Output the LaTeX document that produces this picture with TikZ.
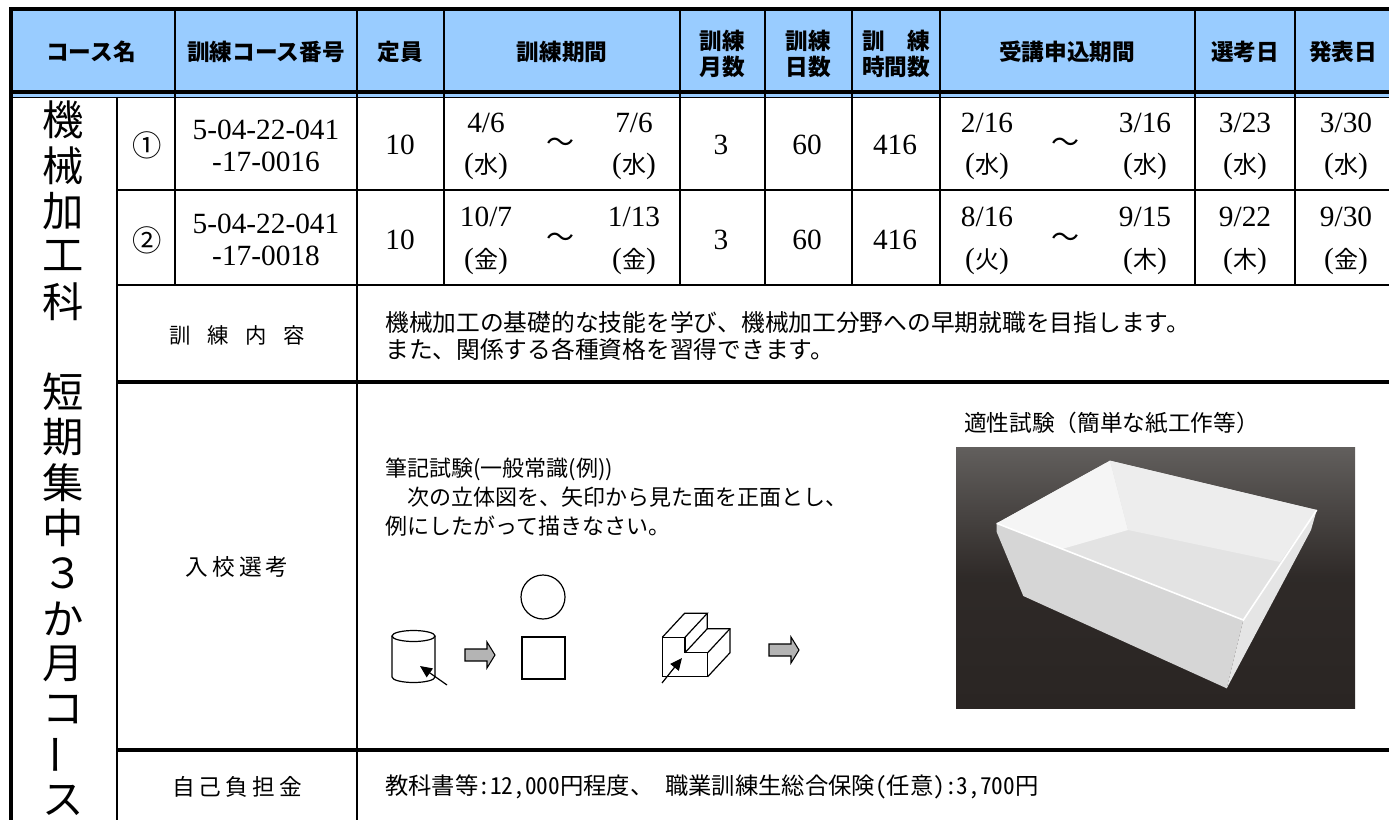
\documentclass[tikz,border=0pt]{standalone}
\usepackage{fontspec}
\setmainfont{Liberation Serif}
\newfontfamily\jpfont{Noto Sans CJK JP}
\newfontfamily\jphalf{Noto Sans CJK JP}[CharacterWidth=Half]
\newfontfamily\jpspaced{Noto Sans CJK JP}[LetterSpace=18]
\usetikzlibrary{arrows.meta}

\definecolor{hdblue}{RGB}{153,204,255}
\definecolor{arrowgray}{RGB}{180,180,180}
\definecolor{photobg}{RGB}{42,37,35}
\definecolor{phototop}{RGB}{98,95,93}

\newcommand\youbi[1]{(\hbox{\jpfont\fontsize{18}{20}\selectfont#1})}

\tikzset{
  frameline/.style={line width=3pt},
  gridline/.style={line width=2.2pt},
  hdtext/.style={font=\jpfont\bfseries\fontsize{17}{20}\selectfont, align=center},
  numtext/.style={font=\fontsize{22}{24}\selectfont, align=center},
  circnum/.style={font=\jpfont\fontsize{22}{22}\selectfont},
  tilde/.style={font=\jpfont\fontsize{21}{21}\selectfont},
  bigchar/.style={font=\jpfont\fontsize{31}{31}\selectfont},
  labeltext/.style={font=\jpspaced\fontsize{17}{20}\selectfont},
  bodytext/.style={font=\jpfont\fontsize{16.5}{20}\selectfont, anchor=west, align=left, inner sep=0pt},
  sketch/.style={line width=0.9pt},
  blockarrow/.style={draw, fill=arrowgray, line width=0.8pt},
}

\begin{document}
\begin{tikzpicture}[x=0.75pt,y=0.75pt,yscale=-1,xscale=1]
\useasboundingbox (0,0) rectangle (1389,820);

%Header background
\fill[hdblue] (11,10) rectangle (1389,97);

%Outer frame
\draw[frameline] (9,9.5) -- (1389,9.5);
\draw[frameline] (11,8) -- (11,820);
%Header bottom (double line)
\draw[frameline] (11,92) -- (1389,92);
\draw[line width=1.4pt] (11,97.5) -- (1389,97.5);

%Header columns
\foreach \cx in {175,357,444,680,765,852,940,1195,1295}
  \draw[gridline] (\cx,10) -- (\cx,97);
%Course rows columns
\foreach \cx in {175,444,680,765,852,940,1195,1295}
  \draw[gridline] (\cx,97) -- (\cx,285);
\draw[gridline] (117,97) -- (117,820);
\draw[gridline] (357,97) -- (357,820);
%Row lines
\foreach \ry in {190,285}
  \draw[gridline] (117,\ry) -- (1389,\ry);
\draw[frameline] (117,382) -- (1389,382);
\draw[frameline] (117,750) -- (1389,750);

% Header Text
\draw (91,52) node[hdtext] (hName) {コース名};
\draw (266,52) node[hdtext] (hCode) {訓練コース番号};
\draw (400,52) node[hdtext] (hCap) {定員};
\draw (562,52) node[hdtext] (hTerm) {訓練期間};
\draw (722,54) node[hdtext] (hMonth) {訓練\\月数};
\draw (808,54) node[hdtext] (hDays) {訓練\\日数};
\draw (896,54) node[hdtext] (hHours) {訓　練\\時間数};
\draw (1067,52) node[hdtext] (hApply) {受講申込期間};
\draw (1245,52) node[hdtext] (hSelect) {選考日};
\draw (1343,52) node[hdtext] (hResult) {発表日};

% Vertical course name
\foreach \ch [count=\i from 0] in {機,械,加,工,科,{},短,期,集,中,３,か,月,コ,{},ス}
  \draw (63,120+45.33*\i) node[bigchar] (cn\i) {\ch};
\draw (63,120+45.33*14) node[bigchar, rotate=90] (cnBar) {ー};

% Course 1
\draw (147,145) node[circnum] (no1) {①};
\draw (266,146) node[numtext] (code1) {5-04-22-041\\-17-0016};
\draw (400,145) node[numtext] (cap1) {10};
\draw (486,123) node[numtext] (tsA) {4/6};
\draw (486,166) node[numtext] (tsDayA) {\youbi{水}};
\draw (560,145) node[tilde] (tTildeA) {〜};
\draw (634,123) node[numtext] (teA) {7/6};
\draw (634,166) node[numtext] (teDayA) {\youbi{水}};
\draw (721,145) node[numtext] (month1) {3};
\draw (807,145) node[numtext] (days1) {60};
\draw (895,145) node[numtext] (hours1) {416};
\draw (987,123) node[numtext] (asA) {2/16};
\draw (987,166) node[numtext] (asDayA) {\youbi{水}};
\draw (1065,145) node[tilde] (aTildeA) {〜};
\draw (1145,123) node[numtext] (aeA) {3/16};
\draw (1145,166) node[numtext] (aeDayA) {\youbi{水}};
\draw (1245,123) node[numtext] (selA) {3/23};
\draw (1245,166) node[numtext] (selDayA) {\youbi{水}};
\draw (1346,123) node[numtext] (resA) {3/30};
\draw (1346,166) node[numtext] (resDayA) {\youbi{水}};

% Course 2
\draw (147,240) node[circnum] (no2) {②};
\draw (266,240) node[numtext] (code2) {5-04-22-041\\-17-0018};
\draw (400,240) node[numtext] (cap2) {10};
\draw (486,217) node[numtext] (tsB) {10/7};
\draw (486,261) node[numtext] (tsDayB) {\youbi{金}};
\draw (560,240) node[tilde] (tTildeB) {〜};
\draw (634,217) node[numtext] (teB) {1/13};
\draw (634,261) node[numtext] (teDayB) {\youbi{金}};
\draw (721,240) node[numtext] (month2) {3};
\draw (807,240) node[numtext] (days2) {60};
\draw (895,240) node[numtext] (hours2) {416};
\draw (987,217) node[numtext] (asB) {8/16};
\draw (987,261) node[numtext] (asDayB) {\youbi{火}};
\draw (1065,240) node[tilde] (aTildeB) {〜};
\draw (1145,217) node[numtext] (aeB) {9/15};
\draw (1145,261) node[numtext] (aeDayB) {\youbi{木}};
\draw (1245,217) node[numtext] (selB) {9/22};
\draw (1245,261) node[numtext] (selDayB) {\youbi{木}};
\draw (1346,217) node[numtext] (resB) {9/30};
\draw (1346,261) node[numtext] (resDayB) {\youbi{金}};

% Training content
\draw (237,335) node[font=\jpfont\fontsize{16}{20}\selectfont] (lblContent) {訓\hspace{12.5pt}練\hspace{12.5pt}内\hspace{12.5pt}容};
\draw (385,336) node[bodytext, font=\jpfont\fontsize{17.8}{20.3}\selectfont] (txtContent) {機械加工の基礎的な技能を学び、機械加工分野への早期就職を目指します。\\また、関係する各種資格を習得できます。};

% Entrance selection
\draw (237,567) node[labeltext] (lblSelect) {入校選考};
\draw (385,497) node[bodytext, font=\jpfont\fontsize{16.5}{21.8}\selectfont] (txtWritten) {筆記試験(一般常識(例))\\　次の立体図を、矢印から見た面を正面とし、\\例にしたがって描きなさい。};
\draw (964,423) node[bodytext, font=\jpfont\fontsize{17}{20}\selectfont] (txtAptitude) {適性試験（簡単な紙工作等）};

%Cylinder example
\draw[sketch] (413.5,636) ellipse [x radius=21.5, y radius=5.5];
\draw[sketch] (392,636) -- (392,677) arc [start angle=180, end angle=0, x radius=21.5, y radius=5.5] -- (435,636);
\draw[sketch, -{Triangle[length=9pt,width=8pt]}] (447,685) -- (420,666);
%Front / top views
\draw[sketch] (543,597) circle [radius=22];
\draw[sketch] (522,637) rectangle (565,679);

%Step block
\draw[sketch] (662.3,676.7) -- (662.3,637.3) -- (685,637.3) -- (685,652.7) -- (707.7,652.7) -- (707.7,676.7) -- cycle;
\draw[sketch] (662.3,637.3) -- (684.6,613.3) -- (707.3,613.3) -- (685,637.3);
\draw[sketch] (707.3,613.3) -- (707.3,628.7) -- (730,628.7) -- (730,652.7) -- (707.7,676.7);
\draw[sketch] (685,652.7) -- (707.3,628.7);
\draw[sketch] (707.7,652.7) -- (730,628.7);
\draw[sketch, -{Triangle[length=9pt,width=8pt]}] (662,683) -- (682,658);

%Gray block arrows
\foreach \ax/\ay in {465/655,769/650}
  \draw[blockarrow] (\ax,\ay-6) -- ++(22,0) -- ++(0,-7) -- ++(8,13) -- ++(-8,13) -- ++(0,-7) -- ++(-22,0) -- cycle;

%Photo of paper box
\shade[top color=phototop, bottom color=photobg, middle color=photobg!92!phototop] (956,447) rectangle (1355,708);
\fill[white!84!black] (996.7,523.3) -- (1243.3,620) -- (1226.7,688.3) -- (1023.3,596) -- (996.7,532) -- cycle;
\fill[white!90!black] (1243.3,620) -- (1316.7,510) -- (1311,530) -- (1226.7,688.3) -- cycle;
%inside: floor and inner walls
\fill[white!89!black] (996.7,523.3) -- (1110,460.7) -- (1316.7,510) -- (1243.3,620) -- cycle;
\fill[white!96!black] (996.7,523.3) -- (1110,460.7) -- (1128,530) -- (1062,549) -- cycle;
\fill[white!93!black] (1110,460.7) -- (1316.7,510) -- (1280,562) -- (1128,530) -- cycle;
\draw[white, line width=1.2pt] (996.7,523.3) -- (1243.3,620) -- (1316.7,510);

% Self payment
\draw (237,787) node[labeltext] (lblPay) {自己負担金};
\draw (385,787) node[bodytext, font=\jphalf\fontsize{17.5}{20}\selectfont] (txtPay) {教科書等:12,000円程度、 職業訓練生総合保険(任意):3,700円};

\end{tikzpicture}
\end{document}
